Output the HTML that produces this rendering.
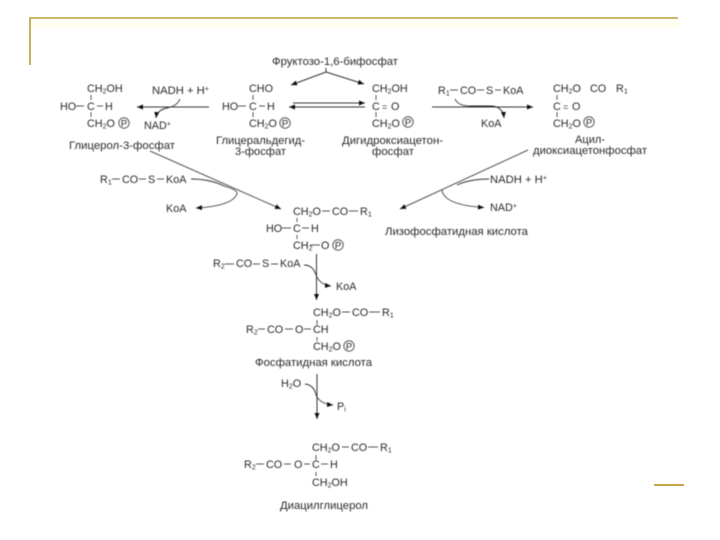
<!DOCTYPE html>
<html><head><meta charset="utf-8">
<style>
html,body{margin:0;padding:0;background:#fff;width:720px;height:540px;overflow:hidden}
svg{display:block}
text{font-family:"Liberation Sans",sans-serif;font-size:10.8px;fill:#2b2b2b}
.s{font-size:7px}
.p{font-size:9.5px;text-anchor:middle}
.l{stroke:#333;stroke-width:1;fill:none}
.b{stroke:#555;stroke-width:1;fill:none}
.c{stroke:#333;stroke-width:.9;fill:none}
</style></head><body>
<svg width="720" height="540" viewBox="0 0 720 540" xmlns="http://www.w3.org/2000/svg">
<defs>
<marker id="a" markerWidth="7" markerHeight="6" refX="6" refY="3" orient="auto" markerUnits="userSpaceOnUse"><path d="M0 .5L6 3L0 5.5z" fill="#111"/></marker>
<filter id="f" x="0" y="0" width="100%" height="100%"><feGaussianBlur stdDeviation="0.42"/></filter>
</defs>
<rect x="31" y="20" width="648" height="9" fill="#fffef0"/>
<path d="M30 65V18H678" fill="none" stroke="#b8a23a" stroke-width="1.6"/>
<rect x="654" y="484" width="30" height="2" fill="#c9a548"/>
<g filter="url(#f)">
<!-- top -->
<text x="272" y="65" textLength="126" lengthAdjust="spacingAndGlyphs">Фруктозо-1,6-бифосфат</text>
<path class="l" d="M326 68V72M326 72L291 85" marker-end="url(#a)"/>
<path class="l" d="M326 72L364 84" marker-end="url(#a)"/>

<!-- glycerol-3-P -->
<text x="87" y="92">CH<tspan class="s" dy="1.5">2</tspan><tspan dy="-1.5">OH</tspan></text>
<path class="b" d="M91 95V100M91 112V117M76 106H84M97 106H103"/>
<text x="60" y="110">HO</text><text x="87" y="110">C</text><text x="105" y="110">H</text>
<text x="87" y="127">CH<tspan class="s" dy="1.5">2</tspan><tspan dy="-1.5">O</tspan></text>
<circle cx="124" cy="123" r="5.2" class="b"/><text x="124" y="126.4" class="p">P</text>
<text x="69" y="149" textLength="106" lengthAdjust="spacingAndGlyphs">Глицерол-3-фосфат</text>

<text x="152" y="94" textLength="57" lengthAdjust="spacingAndGlyphs">NADH + H<tspan class="s" dy="-3">+</tspan></text>
<path class="l" d="M209 107H137" marker-end="url(#a)"/>
<path class="c" d="M180 99Q177 106 167 108Q157 110 156 118" marker-end="url(#a)"/>
<text x="144" y="129">NAD<tspan class="s" dy="-3">+</tspan></text>

<!-- G3P -->
<text x="249" y="92">CHO</text>
<path class="b" d="M253 95V100M253 112V117M238 106H246M259 106H265"/>
<text x="222" y="110">HO</text><text x="249" y="110">C</text><text x="267" y="110">H</text>
<text x="249" y="127">CH<tspan class="s" dy="1.5">2</tspan><tspan dy="-1.5">O</tspan></text>
<circle cx="285" cy="123" r="5.2" class="b"/><text x="285" y="126.4" class="p">P</text>
<text x="216" y="144" textLength="89" lengthAdjust="spacingAndGlyphs">Глицеральдегид-</text>
<text x="235" y="155" textLength="51" lengthAdjust="spacingAndGlyphs">3-фосфат</text>

<path class="l" d="M293 103H365" marker-end="url(#a)"/>
<path class="l" d="M365 107H289" marker-end="url(#a)"/>

<!-- DHAP -->
<text x="372" y="92">CH<tspan class="s" dy="1.5">2</tspan><tspan dy="-1.5">OH</tspan></text>
<path class="b" d="M376 95V100M376 112V117"/>
<text x="372" y="110">C</text><text x="382" y="110" style="font-size:9px">=</text><text x="391" y="110">O</text>
<text x="372" y="127">CH<tspan class="s" dy="1.5">2</tspan><tspan dy="-1.5">O</tspan></text>
<circle cx="408" cy="122" r="5.2" class="b"/><text x="408" y="125.4" class="p">P</text>
<text x="342" y="144" textLength="101" lengthAdjust="spacingAndGlyphs">Дигидроксиацетон-</text>
<text x="372" y="155" textLength="42" lengthAdjust="spacingAndGlyphs">фосфат</text>

<text x="438" y="94">R<tspan class="s" dy="1.5">1</tspan></text>
<text x="460" y="94">CO</text><text x="486" y="94">S</text><text x="503" y="94">KoA</text>
<path class="b" d="M450 90H458M477 90H484M495 90H501"/>
<path class="l" d="M432 107H533" marker-end="url(#a)"/>
<path class="c" d="M455 99Q458 106 470 106H492Q503 107 504 118" marker-end="url(#a)"/>
<text x="481" y="127">KoA</text>

<!-- acyl -->
<text x="553" y="92">CH<tspan class="s" dy="1.5">2</tspan><tspan dy="-1.5">O</tspan></text>
<text x="590" y="92">CO</text><text x="616" y="92">R<tspan class="s" dy="1.5">1</tspan></text>
<path class="b" d="M557 95V100M557 112V117"/>
<text x="553" y="110">C</text><text x="563" y="110" style="font-size:9px">=</text><text x="572" y="110">O</text>
<text x="553" y="127">CH<tspan class="s" dy="1.5">2</tspan><tspan dy="-1.5">O</tspan></text>
<circle cx="589" cy="122" r="5.2" class="b"/><text x="589" y="125.4" class="p">P</text>
<text x="575" y="143" textLength="30" lengthAdjust="spacingAndGlyphs">Ацил-</text>
<text x="533" y="154" textLength="114" lengthAdjust="spacingAndGlyphs">диоксиацетонфосфат</text>

<!-- left diag -->
<path class="b" d="M150 151L281 209" marker-end="url(#a)"/>
<text x="100" y="183">R<tspan class="s" dy="1.5">1</tspan></text>
<text x="122" y="183">CO</text><text x="148" y="183">S</text><text x="166" y="183">KoA</text>
<path class="b" d="M112 179H120M139 179H146M157 179H164"/>
<path class="c" d="M191 179Q210 179 224 186Q238 190 237 194Q232 206 196 208" marker-end="url(#a)"/>
<text x="166" y="212">KoA</text>

<!-- right diag -->
<path class="b" d="M528 150L400 209" marker-end="url(#a)"/>
<text x="490" y="183" textLength="57" lengthAdjust="spacingAndGlyphs">NADH + H<tspan class="s" dy="-3">+</tspan></text>
<path class="c" d="M489 179Q470 179 457 185"/>
<text x="490" y="211">NAD<tspan class="s" dy="-3">+</tspan></text>
<path class="c" d="M442 190Q444 205 484 207.5" marker-end="url(#a)"/>
<text x="385" y="235" textLength="143" lengthAdjust="spacingAndGlyphs">Лизофосфатидная кислота</text>

<!-- lyso -->
<text x="293" y="215">CH<tspan class="s" dy="1.5">2</tspan><tspan dy="-1.5">O</tspan></text>
<text x="332" y="215">CO</text><text x="360" y="215">R<tspan class="s" dy="1.5">1</tspan></text>
<path class="b" d="M322 211H330M349 211H358M297 218V222M297 235V239M282 228H291M302 228H309"/>
<text x="266" y="232">HO</text><text x="293" y="232">C</text><text x="311" y="232">H</text>
<text x="293" y="249">CH<tspan class="s" dy="1.5">2</tspan></text>
<path class="b" d="M310 245H320"/><text x="321" y="249">O</text>
<circle cx="338" cy="245" r="5.2" class="b"/><text x="338" y="248.4" class="p">P</text>

<text x="213" y="267">R<tspan class="s" dy="1.5">2</tspan></text>
<text x="236" y="267">CO</text><text x="262" y="267">S</text><text x="280" y="267">KoA</text>
<path class="b" d="M225 264H234M253 264H260M271 264H278"/>
<path class="l" d="M316.5 254V300" marker-end="url(#a)"/>
<path class="c" d="M304 265Q313 265 316 275Q320 285 331 286" marker-end="url(#a)"/>
<text x="336" y="290">KoA</text>

<!-- PA -->
<text x="313" y="316">CH<tspan class="s" dy="1.5">2</tspan><tspan dy="-1.5">O</tspan></text>
<text x="352" y="316">CO</text><text x="382" y="316">R<tspan class="s" dy="1.5">1</tspan></text>
<path class="b" d="M342 312H350M369 312H380M317 320V325M317 337V341"/>
<text x="246" y="333">R<tspan class="s" dy="1.5">2</tspan></text>
<text x="267" y="333">CO</text><text x="295" y="333">O</text><text x="313" y="333">CH</text>
<path class="b" d="M258 329H265M285 329H293M304 329H311"/>
<text x="313" y="350">CH<tspan class="s" dy="1.5">2</tspan><tspan dy="-1.5">O</tspan></text>
<circle cx="349" cy="346" r="5.2" class="b"/><text x="349" y="349.4" class="p">P</text>
<text x="255" y="366" textLength="117" lengthAdjust="spacingAndGlyphs">Фосфатидная кислота</text>

<text x="281" y="387">H<tspan class="s" dy="1.5">2</tspan><tspan dy="-1.5">O</tspan></text>
<path class="l" d="M317 374V419" marker-end="url(#a)"/>
<path class="c" d="M305 384Q314 385 316 395Q320 404 333 405" marker-end="url(#a)"/>
<text x="337" y="410">P<tspan class="s" dy="1.5">i</tspan></text>

<!-- DG -->
<text x="312" y="451">CH<tspan class="s" dy="1.5">2</tspan><tspan dy="-1.5">O</tspan></text>
<text x="351" y="451">CO</text><text x="380" y="451">R<tspan class="s" dy="1.5">1</tspan></text>
<path class="b" d="M342 447H349M368 447H378M316 455V460M316 472V476"/>
<text x="244" y="468">R<tspan class="s" dy="1.5">2</tspan></text>
<text x="266" y="468">CO</text><text x="294" y="468">O</text><text x="312" y="468">C</text><text x="330" y="468">H</text>
<path class="b" d="M256 464H264M284 464H291M304 464H310M321 464H328"/>
<text x="312" y="486">CH<tspan class="s" dy="1.5">2</tspan><tspan dy="-1.5">OH</tspan></text>
<text x="280" y="509" textLength="88" lengthAdjust="spacingAndGlyphs">Диацилглицерол</text>
</g>
</svg>
</body></html>
